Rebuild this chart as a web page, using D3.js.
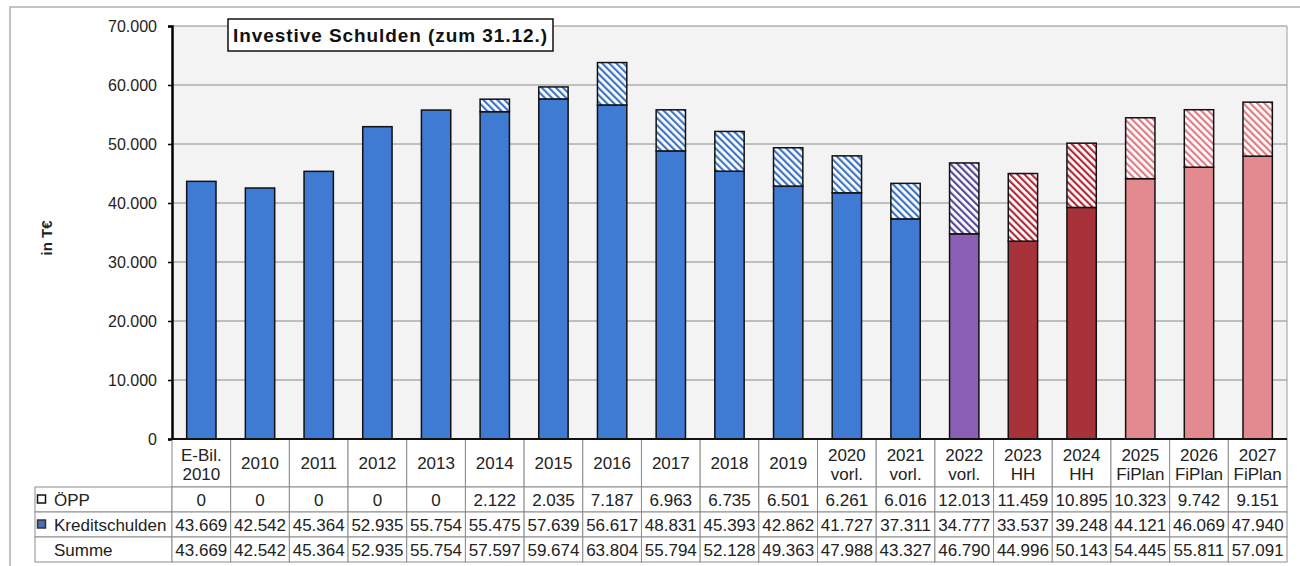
<!DOCTYPE html>
<html>
<head>
<meta charset="utf-8">
<script src="https://cdn.jsdelivr.net/npm/d3@7"></script>
<style>
  body { margin: 0; background: #ffffff; }
  svg { display: block; font-family: "Liberation Sans", Arial, sans-serif; }
</style>
</head>
<body>
<script>
// categories (two-line labels split on "\n")
var categories = ["E-Bil.\n2010", "2010", "2011", "2012", "2013", "2014", "2015", "2016", "2017",
                  "2018", "2019", "2020\nvorl.", "2021\nvorl.", "2022\nvorl.", "2023\nHH", "2024\nHH",
                  "2025\nFiPlan", "2026\nFiPlan", "2027\nFiPlan"];

var oepp    = [0, 0, 0, 0, 0, 2122, 2035, 7187, 6963, 6735, 6501, 6261, 6016, 12013, 11459, 10895, 10323, 9742, 9151];
var kredit  = [43669, 42542, 45364, 52935, 55754, 55475, 57639, 56617, 48831, 45393, 42862, 41727, 37311, 34777, 33537, 39248, 44121, 46069, 47940];
var summe   = [43669, 42542, 45364, 52935, 55754, 57597, 59674, 63804, 55794, 52128, 49363, 47988, 43327, 46790, 44996, 50143, 54445, 55811, 57091];

// which colour group each year belongs to
var phase   = ["ist", "ist", "ist", "ist", "ist", "ist", "ist", "ist", "ist", "ist", "ist", "ist", "ist",
               "vorl", "hh", "hh", "plan", "plan", "plan"];

var yTicks  = [0, 10000, 20000, 30000, 40000, 50000, 60000, 70000];
var rowLabels = ["ÖPP", "Kreditschulden", "Summe"];

var fillColor  = {ist: "#3f7bd2", vorl: "#8b5fb6", hh: "#a8323a", plan: "#e38a91"};
var hatchColor = {ist: "#3d74c6", vorl: "#574a98", hh: "#b32a38", plan: "#e27a84"};

var width  = 1300;
var height = 566;

var svg = d3.select("body")
            .append("svg")
            .attr("width", width)
            .attr("height", height);

var de = d3.formatLocale({decimal: ",", thousands: ".", grouping: [3], currency: ["", " €"]});
var fmt = de.format(",d");

var plot = {left: 172, right: 1287, top: 26, bottom: 439};

var x = d3.scaleBand().domain(categories).range([plot.left, plot.right]).paddingInner(0.5).paddingOuter(0.25);
var col = d3.scaleBand().domain(categories).range([plot.left, plot.right]).padding(0);
var y = d3.scaleLinear().domain([0, 70000]).range([plot.bottom, plot.top]);

var data = categories.map(function(c, i) {
  return {cat: c, oepp: oepp[i], kredit: kredit[i], summe: summe[i], phase: phase[i]};
});

// hatch patterns
var defs = svg.append("defs");
Object.keys(hatchColor).forEach(function(k) {
  var p = defs.append("pattern")
              .attr("id", "hatch-" + k)
              .attr("patternUnits", "userSpaceOnUse")
              .attr("width", 5)
              .attr("height", 5)
              .attr("patternTransform", "rotate(-45)");
  p.append("rect").attr("width", 5).attr("height", 5).attr("fill", "#ffffff");
  p.append("rect").attr("width", 2.2).attr("height", 5).attr("fill", hatchColor[k]);
});

// outer chart border
svg.append("rect")
   .attr("x", 10).attr("y", 7)
   .attr("width", 1300).attr("height", 600)
   .attr("fill", "#ffffff")
   .attr("stroke", "#b0b0b0")
   .attr("stroke-width", 1.5);

// plot background
svg.append("rect")
   .attr("x", plot.left).attr("y", plot.top)
   .attr("width", plot.right - plot.left)
   .attr("height", plot.bottom - plot.top)
   .attr("fill", "#f3f3f3");

// gridlines
svg.append("g")
   .selectAll("line")
   .data(yTicks.filter(function(d) { return d > 0; }))
   .enter().append("line")
   .attr("x1", plot.left).attr("x2", plot.right)
   .attr("y1", function(d) { return y(d); })
   .attr("y2", function(d) { return y(d); })
   .attr("stroke", "#8a8a8a")
   .attr("stroke-width", 1);

svg.append("line")
   .attr("x1", plot.right).attr("x2", plot.right)
   .attr("y1", plot.top).attr("y2", plot.bottom)
   .attr("stroke", "#9a9a9a");

// bars
var bars = svg.append("g").selectAll("g")
              .data(data)
              .enter().append("g");

bars.append("rect")
    .attr("x", function(d) { return x(d.cat); })
    .attr("y", function(d) { return y(d.kredit); })
    .attr("width", x.bandwidth())
    .attr("height", function(d) { return y(0) - y(d.kredit); })
    .attr("fill", function(d) { return fillColor[d.phase]; })
    .attr("stroke", "#111")
    .attr("stroke-width", 1.5);

bars.filter(function(d) { return d.oepp > 0; })
    .append("rect")
    .attr("x", function(d) { return x(d.cat); })
    .attr("y", function(d) { return y(d.kredit + d.oepp); })
    .attr("width", x.bandwidth())
    .attr("height", function(d) { return y(d.kredit) - y(d.kredit + d.oepp); })
    .attr("fill", function(d) { return "url(#hatch-" + d.phase + ")"; })
    .attr("stroke", "#111")
    .attr("stroke-width", 1.5);

// y axis
var yAxis = svg.append("g")
               .attr("transform", "translate(" + plot.left + ",0)")
               .call(d3.axisLeft(y).tickValues(yTicks).tickSize(4).tickPadding(11)
                       .tickFormat(function(d) { return d === 0 ? "0" : fmt(d); }));
yAxis.select(".domain").attr("stroke", "#000").attr("stroke-width", 2.5);
yAxis.selectAll(".tick line").attr("stroke", "#000").attr("stroke-width", 1.5);
yAxis.selectAll("text")
     .attr("fill", "#222")
     .style("font-size", "16px")
     .style("font-family", "'Liberation Sans', Arial, sans-serif");

svg.append("text")
   .attr("transform", "translate(52,238) rotate(-90)")
   .style("text-anchor", "middle")
   .style("font-size", "15px")
   .style("font-weight", "bold")
   .attr("fill", "#222")
   .text("in T€");

// title box
svg.append("rect")
   .attr("x", 228).attr("y", 19)
   .attr("width", 325).attr("height", 32)
   .attr("fill", "#ffffff")
   .attr("stroke", "#111")
   .attr("stroke-width", 1.5);

svg.append("text")
   .attr("x", 233).attr("y", 42)
   .attr("textLength", 314)
   .attr("lengthAdjust", "spacing")
   .style("font-size", "19px")
   .style("font-weight", "bold")
   .attr("fill", "#111")
   .text("Investive Schulden (zum 31.12.)");

// data table
var rowTop = [487, 512, 537];
var rowH = 25;
var tbl = svg.append("g");
var gridStroke = "#8c8c8c";
var tblFont = "17px";

// header cells
tbl.selectAll(".hdr")
   .data(data)
   .enter().append("rect")
   .attr("x", function(d) { return col(d.cat); })
   .attr("y", plot.bottom)
   .attr("width", col.bandwidth())
   .attr("height", rowTop[0] - plot.bottom)
   .attr("fill", "#ffffff")
   .attr("stroke", gridStroke);

var hdrText = tbl.selectAll(".hdrText")
   .data(data)
   .enter().append("text")
   .attr("text-anchor", "middle")
   .style("font-size", tblFont)
   .attr("fill", "#222");

hdrText.each(function(d) {
  var lines = d.cat.split("\n");
  var t = d3.select(this);
  var cx = col(d.cat) + col.bandwidth() / 2;
  if (lines.length === 1) {
    t.append("tspan").attr("x", cx).attr("y", 469).text(lines[0]);
  } else {
    t.append("tspan").attr("x", cx).attr("y", 461).text(lines[0]);
    t.append("tspan").attr("x", cx).attr("y", 480).text(lines[1]);
  }
});

// body rows
var rowValues = [oepp, kredit, summe];
rowValues.forEach(function(vals, r) {
  tbl.append("rect")
     .attr("x", 35).attr("y", rowTop[r])
     .attr("width", plot.left - 35).attr("height", rowH)
     .attr("fill", "#ffffff")
     .attr("stroke", gridStroke);

  tbl.append("text")
     .attr("x", 54)
     .attr("y", rowTop[r] + 18.5)
     .style("font-size", tblFont)
     .attr("fill", "#222")
     .text(rowLabels[r]);

  tbl.selectAll(".cell" + r)
     .data(data)
     .enter().append("rect")
     .attr("x", function(d) { return col(d.cat); })
     .attr("y", rowTop[r])
     .attr("width", col.bandwidth())
     .attr("height", rowH)
     .attr("fill", "#ffffff")
     .attr("stroke", gridStroke);

  tbl.selectAll(".val" + r)
     .data(vals)
     .enter().append("text")
     .attr("x", function(d, i) { return col(categories[i]) + col.bandwidth() / 2; })
     .attr("y", rowTop[r] + 18.5)
     .attr("text-anchor", "middle")
     .style("font-size", tblFont)
     .attr("fill", "#222")
     .text(function(d) { return fmt(d); });
});

// legend keys
tbl.append("rect")
   .attr("x", 37.5).attr("y", rowTop[0] + 8)
   .attr("width", 8).attr("height", 8)
   .attr("fill", "#ffffff")
   .attr("stroke", "#111")
   .attr("stroke-width", 1.5);

tbl.append("rect")
   .attr("x", 37.5).attr("y", rowTop[1] + 8)
   .attr("width", 8).attr("height", 8)
   .attr("fill", "#4a6fae")
   .attr("stroke", "#333")
   .attr("stroke-width", 1.5);

// x axis line on top of everything
svg.append("line")
   .attr("x1", plot.left - 1).attr("x2", plot.right)
   .attr("y1", plot.bottom).attr("y2", plot.bottom)
   .attr("stroke", "#111")
   .attr("stroke-width", 2);
</script>
</body>
</html>
